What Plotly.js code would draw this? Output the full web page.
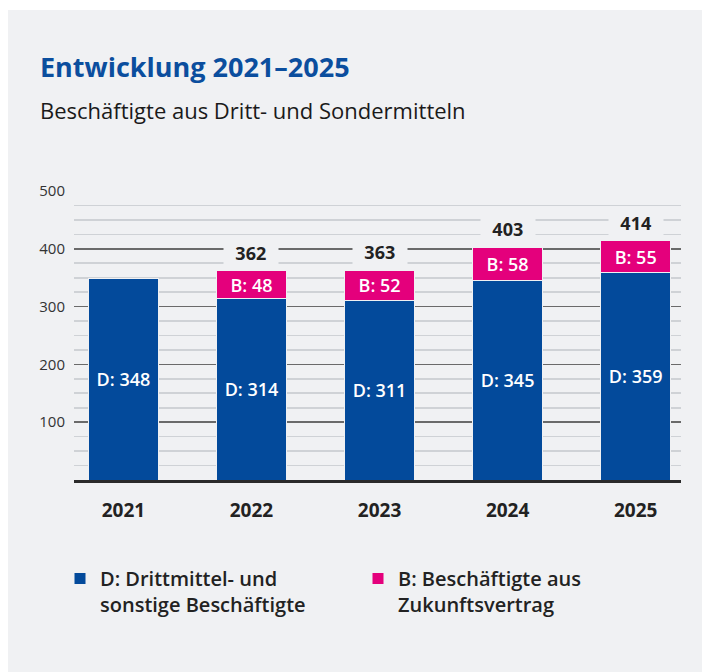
<!DOCTYPE html>
<html>
<head>
<meta charset="utf-8">
<script src="https://cdn.plot.ly/plotly-3.0.1.min.js"></script>
<style>
  html, body { margin: 0; padding: 0; background: #ffffff; width: 702px; height: 672px; overflow: hidden; }
  #chart { position: absolute; left: 8px; top: 10px; width: 694px; height: 662px; }
</style>
</head>
<body>
<div id="chart"></div>
<script>
// ---- data ----
const years = ['2021', '2022', '2023', '2024', '2025'];
const drittmittel = [348, 314, 311, 345, 359];          // D
const zukunftsvertrag = [null, 48, 52, 58, 55];         // B
const yTickVals = [0, 100, 200, 300, 400, 500];
const yTickText = ['', '100', '200', '300', '400', '500'];
const legendD = 'D: Drittmittel- und<br>sonstige Beschäftigte';
const legendB = 'B: Beschäftigte aus<br>Zukunftsvertrag';
const titleText = 'Entwicklung 2021–2025';
const subtitleText = 'Beschäftigte aus Dritt- und Sondermitteln';

// ---- styles ----
const FONT = 'Open Sans, Noto Sans, sans-serif';
const BLUE = '#034a9b';
const PINK = '#e4007c';
const PANEL = '#f0f1f3';
const TEXT = '#222222';

const totals = years.map((yr, i) => zukunftsvertrag[i] == null ? null : drittmittel[i] + zukunftsvertrag[i]);

const traceD = {
  type: 'bar', x: years, y: drittmittel, name: legendD,
  marker: { color: BLUE, line: { color: PANEL, width: 1 } },
  texttemplate: 'D: %{y}', textposition: 'inside', insidetextanchor: 'middle',
  textangle: 0, constraintext: 'none',
  textfont: { family: FONT, size: 18, color: '#ffffff', weight: 600 },
  hoverinfo: 'skip'
};
const traceB = {
  type: 'bar', x: years, y: zukunftsvertrag, name: legendB,
  marker: { color: PINK, line: { color: PANEL, width: 1 } },
  texttemplate: 'B: %{y}', textposition: 'inside', insidetextanchor: 'middle',
  textangle: 0, constraintext: 'none',
  textfont: { family: FONT, size: 18, color: '#ffffff', weight: 600 },
  hoverinfo: 'skip'
};

const annotations = [
  { xref: 'paper', yref: 'paper', x: -36 / 606, xanchor: 'left',
    y: 1 + (181 - 100) / 289, yanchor: 'middle', showarrow: false,
    text: subtitleText, font: { family: FONT, size: 22, color: '#1a1a1a' } }
];
for (let i = 0; i < years.length; i++) {
  if (totals[i] == null) continue;
  annotations.push({
    x: i, y: totals[i], xref: 'x', yref: 'y',
    text: '\u00a0\u00a0' + String(totals[i]) + '\u00a0\u00a0',
    showarrow: false, xanchor: 'center', yanchor: 'bottom', yshift: 3,
    bgcolor: PANEL, borderpad: 2,
    font: { family: FONT, size: 18, color: TEXT, weight: 700 }
  });
}

const layout = {
  width: 694, height: 662,
  paper_bgcolor: PANEL, plot_bgcolor: PANEL,
  margin: { l: 66, r: 21, t: 181, b: 192, pad: 0 },
  barmode: 'stack', bargap: 0.452,
  showlegend: true,
  font: { family: FONT, color: TEXT },
  title: {
    text: titleText, xref: 'container', yref: 'container',
    x: 32 / 694, xanchor: 'left', y: 1 - 58 / 662, yanchor: 'middle',
    font: { family: FONT, size: 27, color: '#0b4e9e', weight: 700 }
  },
  annotations: annotations,
  xaxis: {
    type: 'category', range: [-0.386, 4.354], fixedrange: true,
    showgrid: false, zeroline: false,
    showline: true, linecolor: '#2a2a2a', linewidth: 3,
    ticks: '', ticklabelstandoff: 11,
    tickfont: { family: FONT, size: 19, color: TEXT, weight: 700 }
  },
  yaxis: {
    range: [0, 500], fixedrange: true,
    tickmode: 'array', tickvals: yTickVals, ticktext: yTickText,
    showgrid: true, gridcolor: '#6a6a6a', gridwidth: 1.6,
    zeroline: false, showline: false, ticks: '', ticklabelstandoff: 8,
    tickfont: { family: FONT, size: 15, color: '#333333' },
    minor: { tickmode: 'linear', tick0: 0, dtick: 25, showgrid: true, gridcolor: '#cfd2d6', gridwidth: 1.6, ticks: '' }
  },
  legend: {
    orientation: 'h', xref: 'container', yref: 'container',
    x: 52 / 694, xanchor: 'left', y: 1 - 549 / 662, yanchor: 'top',
    valign: 'top', traceorder: 'normal', entrywidth: 253, entrywidthmode: 'pixels',
    bgcolor: 'rgba(0,0,0,0)', borderwidth: 0,
    font: { family: FONT, size: 20, color: TEXT, weight: 600 }
  }
};

Plotly.newPlot('chart', [traceD, traceB], layout, { displayModeBar: false, staticPlot: true });
</script>
</body>
</html>
